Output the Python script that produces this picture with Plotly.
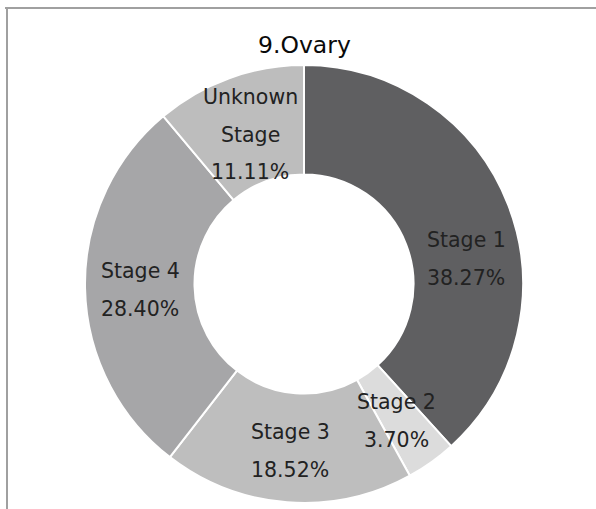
import plotly.graph_objects as go

# ---- data ----
categories = ["Stage 1", "Stage 2", "Stage 3", "Stage 4", "Unknown Stage"]
percentages = [38.27, 3.70, 18.52, 28.40, 11.11]
label_lines = [["Stage 1"], ["Stage 2"], ["Stage 3"], ["Stage 4"], ["Unknown", "Stage"]]
title_text = "9.Ovary"

# ---- style ----
W, H = 596, 509
colors = ["#5f5f61", "#dcdcdc", "#bebebe", "#a6a6a8", "#bdbdbd"]
# label anchor (pixel x, pixel y of first line) for each slice
label_pos = [(466, 240), (396, 402), (290, 432), (140, 271), (250, 97)]
line_gap = 37.5
font_family = "DejaVu Sans, Verdana, sans-serif"

cx, cy, r = 304, 284, 219

def px(x):
    return x / W

def py(y):
    return 1 - y / H

fig = go.Figure(go.Pie(
    labels=categories,
    values=percentages,
    hole=0.5,
    sort=False,
    direction="clockwise",
    rotation=0,
    marker=dict(colors=colors, line=dict(color="white", width=2)),
    textinfo="none",
    showlegend=False,
    domain=dict(x=[px(cx - r), px(cx + r)], y=[py(cy + r), py(cy - r)]),
))

annotations = []
for cat_lines, pct, (lx, ly) in zip(label_lines, percentages, label_pos):
    lines = cat_lines + [f"{pct:.2f}%"]
    for i, t in enumerate(lines):
        annotations.append(dict(
            text=t, x=px(lx), y=py(ly + i * line_gap), xref="paper", yref="paper",
            showarrow=False, xanchor="center", yanchor="middle",
            font=dict(family=font_family, size=20.5, color="#222222"),
        ))

annotations.append(dict(
    text=title_text, x=px(304), y=py(45), xref="paper", yref="paper",
    showarrow=False, xanchor="center", yanchor="middle",
    font=dict(family=font_family, size=23.5, color="#0a0a0a"),
))

shapes = [
    dict(type="line", xref="paper", yref="paper", x0=px(5), x1=1.0, y0=py(8), y1=py(8),
         line=dict(color="#a0a0a0", width=2)),
    dict(type="line", xref="paper", yref="paper", x0=px(7), x1=px(7), y0=py(8), y1=0,
         line=dict(color="#a0a0a0", width=2)),
]

fig.update_layout(
    width=W, height=H,
    margin=dict(l=0, r=0, t=0, b=0),
    paper_bgcolor="white",
    plot_bgcolor="white",
    annotations=annotations,
    shapes=shapes,
)

fig.write_html(
    "out.html",
    config={"displayModeBar": False},
    post_script="document.body.style.margin='0';document.body.style.overflow='hidden';",
)
